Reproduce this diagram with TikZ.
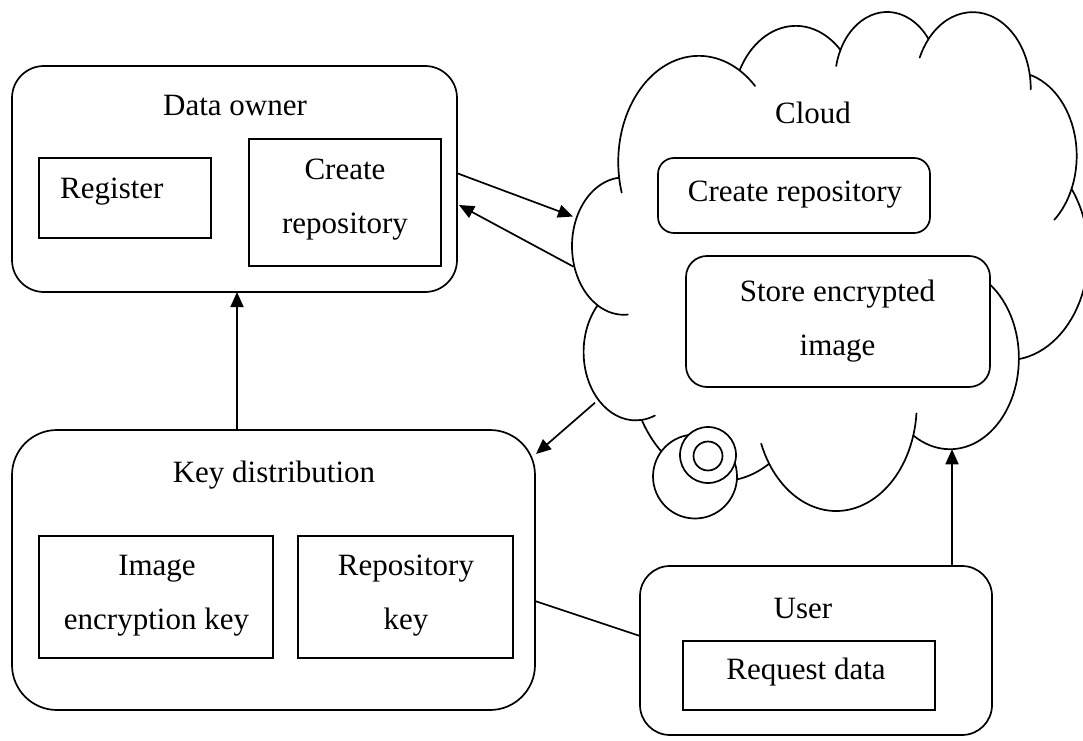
\documentclass[tikz,border=0pt]{standalone}
\usepackage{fontspec}
\setmainfont{Liberation Serif}
\usetikzlibrary{arrows.meta}
\newcommand\cloudstub[6]{\draw[ln] (#1,#2) ++(#5:#3pt and #4pt) arc[start angle=#5,end angle=#6,x radius=#3pt,y radius=#4pt];}
\begin{document}
\begin{tikzpicture}[x=1pt,y=1pt,
  ln/.style={line width=1.7pt, line cap=round, line join=round},
  rbox/.style={draw, line width=1.7pt, fill=white, inner sep=0pt, outer sep=0pt},
  sbox/.style={draw, line width=1.8pt, fill=white, inner sep=0pt, outer sep=0pt},
  txt/.style={inner sep=0pt, anchor=base, font=\fontsize{31}{37}\selectfont},
  arr/.style={line width=1.7pt, -{Triangle[length=15pt,width=13pt]}},
  circ/.style={draw, line width=1.7pt, fill=white, circle, inner sep=0pt},
]
\useasboundingbox (0,0) rectangle (1083,740);

% ---------- Cloud outline ----------
\draw[ln, fill=white] (618.98,563.73)
  arc[start angle=187.75, end angle=59.64, x radius=80.60pt, y radius=106.11pt]
  arc[start angle=152.02, end angle=45.44, x radius=63.65pt, y radius=83.90pt]
  arc[start angle=153.49, end angle=37.31, x radius=52.10pt, y radius=68.64pt]
  arc[start angle=139.69, end angle=10.21, x radius=57.97pt, y radius=76.15pt]
  arc[start angle=74.77, end angle=-23.21, x radius=63.65pt, y radius=83.97pt]
  arc[start angle=37.53, end angle=-81.86, x radius=80.86pt, y radius=106.45pt]
  arc[start angle=-0.46, end angle=-121.98, x radius=69.04pt, y radius=90.83pt]
  arc[start angle=-16.85, end angle=-146.25, x radius=80.59pt, y radius=106.40pt]
  arc[start angle=-58.98, end angle=-150.20, x radius=92.14pt, y radius=121.73pt]
  arc[start angle=-83.31, end angle=-223.12, x radius=52.04pt, y radius=68.33pt]
  arc[start angle=-120.36, end angle=-264.11, x radius=51.86pt, y radius=68.64pt]
  -- cycle;
% inner stubs of the cloud
\cloudstub{623.86}{493.85}{51.86}{68.64}{-85.55}{-120.36}
\cloudstub{635.64}{387.93}{52.04}{68.33}{-68.24}{-83.31}
\cloudstub{836.15}{335.37}{80.59}{106.40}{-146.25}{-158.47}
\cloudstub{836.15}{335.37}{80.59}{106.40}{-4.738}{-16.85}
\cloudstub{949.84}{381.58}{69.04}{90.83}{64.03}{-0.46}
\cloudstub{1013.06}{584.17}{63.65}{83.97}{-23.21}{-49.63}
\cloudstub{972.73}{651.70}{57.97}{76.15}{10.21}{-0.821}
\cloudstub{972.73}{651.70}{57.97}{76.15}{156.28}{139.69}
\cloudstub{887.08}{659.36}{52.10}{68.64}{167.73}{153.49}
\cloudstub{698.84}{578.04}{80.60}{106.11}{59.64}{45.73}
\cloudstub{698.84}{578.04}{80.60}{106.11}{-163.19}{-172.25}

% callout bubbles
\node[circ, minimum size=84pt] (bubbleL) at (695,263.5) {};
\node[circ, minimum size=56pt] (bubbleM) at (708,285) {};
\node[circ, minimum size=29pt] (bubbleS) at (708,284) {};

% ---------- Boxes ----------
\node[rbox, rounded corners=32pt, minimum width=445pt, minimum height=226pt] (owner) at (234.5,561) {};
\node[sbox, minimum width=172pt, minimum height=80pt] (register) at (125,542) {};
\node[sbox, minimum width=192pt, minimum height=127pt] (createDO) at (345,537.5) {};

\node[rbox, rounded corners=45pt, minimum width=523pt, minimum height=280pt] (keydist) at (273.5,170) {};
\node[sbox, minimum width=234pt, minimum height=122pt] (imgkey) at (156,143) {};
\node[sbox, minimum width=215pt, minimum height=122pt] (repokey) at (405.5,143) {};

\node[rbox, rounded corners=30pt, minimum width=352pt, minimum height=169pt] (user) at (816,89.5) {};
\node[sbox, minimum width=252pt, minimum height=69pt] (request) at (809,64.5) {};

\node[rbox, rounded corners=16pt, minimum width=272pt, minimum height=75pt] (cloudcreate) at (794,544.5) {};
\node[rbox, rounded corners=21pt, minimum width=304pt, minimum height=131pt] (store) at (838,418.5) {};

% ---------- Texts ----------
\node[txt] (tOwner) at (235,624) {Data owner};
\node[txt, anchor=base west] (tRegister) at (60,541) {Register};
\node[txt] (tCreate1) at (345,560.7) {Create};
\node[txt] (tCreate2) at (345,506.7) {repository};
\node[txt] (tCloud) at (813,616) {Cloud};
\node[txt] (tCloudCreate) at (795,538.3) {Create repository};
\node[txt] (tStore1) at (837.5,438.3) {Store encrypted};
\node[txt] (tStore2) at (837.5,385) {image};
\node[txt] (tKey) at (274,257.7) {Key distribution};
\node[txt] (tImg1) at (157,165) {Image};
\node[txt] (tImg2) at (156.5,111) {encryption key};
\node[txt] (tRepo1) at (406,165) {Repository};
\node[txt] (tRepo2) at (406,111) {key};
\node[txt] (tUser) at (803,122) {User};
\node[txt] (tRequest) at (806,61) {Request data};

% ---------- Connectors ----------
\coordinate (ownerOut) at (457.3,566.7);
\coordinate (cloudIn) at (573,523.5);
\coordinate (cloudOut) at (573.5,473.3);
\coordinate (ownerIn) at (459,535);
\coordinate (cloudOut2) at (595,337.3);
\coordinate (keyIn) at (536,286);
\coordinate (keyTop) at (237,310);
\coordinate (ownerBottom) at (237,448);
\coordinate (userTop) at (952,174);
\coordinate (cloudBottom) at (952,290.75);
\coordinate (keyRight) at (535,139);
\coordinate (userLeft) at (640,104);

\draw[arr] (ownerOut) -- (cloudIn);
\draw[arr] (cloudOut) -- (ownerIn);
\draw[arr] (cloudOut2) -- (keyIn);
\draw[arr] (keyTop) -- (ownerBottom);
\draw[arr] (userTop) -- (cloudBottom);
\draw[ln] (keyRight) -- (userLeft);
\end{tikzpicture}
\end{document}
